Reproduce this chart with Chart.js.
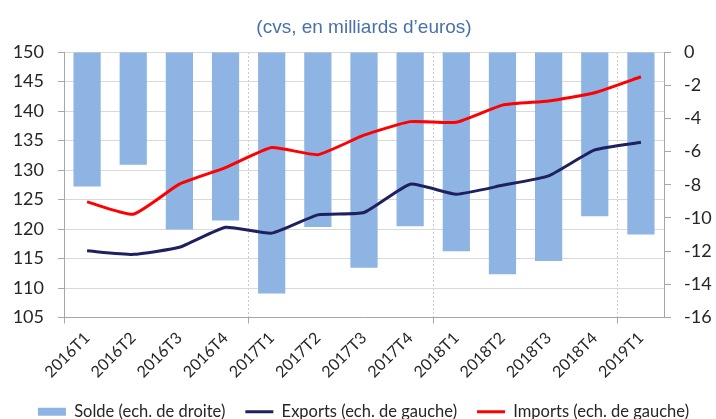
<!DOCTYPE html>
<html>
<head>
<meta charset="utf-8">
<script src="https://cdn.jsdelivr.net/npm/chart.js@4/dist/chart.umd.min.js"></script>
<style>
html,body{margin:0;padding:0;background:#fff;}
#wrap{width:716px;height:419px;position:relative;}
</style>
</head>
<body>
<div id="wrap"><canvas id="c" width="716" height="419"></canvas></div>
<script>
const categories = ['2016T1','2016T2','2016T3','2016T4','2017T1','2017T2','2017T3','2017T4','2018T1','2018T2','2018T3','2018T4','2019T1'];
const solde = [-8.1, -6.8, -10.7, -10.15, -14.55, -10.55, -13.0, -10.5, -12.0, -13.4, -12.6, -9.9, -11.0];
const exportsVals = [116.3, 115.7, 116.9, 120.3, 119.3, 122.4, 122.8, 127.6, 125.9, 127.4, 129.0, 133.4, 134.7];
const importsVals = [124.6, 122.5, 127.6, 130.4, 133.8, 132.6, 135.9, 138.2, 138.1, 141.0, 141.7, 143.1, 145.8];
const leftTicks = {min: 105, max: 150, step: 5};
const rightTicks = {min: -16, max: 0, step: 2};
const titleText = '(cvs, en milliards d\u2019euros)';
const labelsText = ['Solde (ech. de droite)', 'Exports (ech. de gauche)', 'Imports (ech. de gauche)'];

const axisGrey = '#a6a6a6';
const tickFont = {family: 'Lato', size: 18};

new Chart(document.getElementById('c'), {
  type: 'bar',
  data: {
    labels: categories,
    datasets: [
      {type: 'bar', label: labelsText[0], data: solde, yAxisID: 'y2', backgroundColor: '#8db4e2',
       borderWidth: 0, barPercentage: 1, categoryPercentage: 0.59, order: 2},
      {type: 'line', label: labelsText[1], data: exportsVals, yAxisID: 'y', borderColor: '#1f2060',
       backgroundColor: '#1f2060', borderWidth: 3, pointRadius: 0, tension: 0.15, order: 1},
      {type: 'line', label: labelsText[2], data: importsVals, yAxisID: 'y', borderColor: '#ff0000',
       backgroundColor: '#ff0000', borderWidth: 3, pointRadius: 0, tension: 0.15, order: 1}
    ]
  },
  options: {
    responsive: false,
    animation: false,
    layout: {padding: {left: 11, right: 0, top: 0, bottom: -11}},
    plugins: {
      tooltip: {enabled: false},
      title: {
        display: true, text: titleText, fullSize: false,
        font: {family: 'Liberation Sans', size: 19, weight: 'normal'},
        color: '#4a70a8', padding: {top: 16, bottom: 13.2}
      },
      legend: {
        position: 'bottom',
        labels: {
          font: {family: 'Lato', size: 16.5}, color: '#262626',
          usePointStyle: true, pointStyleWidth: 28, boxHeight: 8, padding: 20,
          sort: (a, b) => a.datasetIndex - b.datasetIndex,
          generateLabels(chart) {
            const items = Chart.defaults.plugins.legend.labels.generateLabels(chart);
            items.forEach(it => {
              const ds = chart.data.datasets[it.datasetIndex];
              if (ds.type === 'line') {
                it.pointStyle = 'line'; it.lineWidth = 3; it.strokeStyle = ds.borderColor; it.fillStyle = ds.borderColor;
              } else {
                it.pointStyle = 'rect'; it.lineWidth = 0; it.fillStyle = ds.backgroundColor; it.strokeStyle = ds.backgroundColor;
              }
            });
            return items;
          }
        }
      }
    },
    scales: {
      x: {
        type: 'category', offset: true,
        grid: {
          offset: true, lineWidth: 1, tickLength: 6,
          color: ctx => ([4, 8, 12].includes(ctx.index) ? '#c8c8c8' : 'rgba(0,0,0,0)'),
          tickColor: ctx => ([0, 4, 8, 12, 13].includes(ctx.index) ? axisGrey : 'rgba(0,0,0,0)')
        },
        border: {display: true, color: axisGrey, width: 1, dash: [2, 2]},
        ticks: {font: {family: 'Lato', size: 16}, color: '#262626', minRotation: 45, maxRotation: 45, padding: 5, autoSkip: false},
        afterFit: s => { s.height = 66; }
      },
      y: {
        position: 'left', min: leftTicks.min, max: leftTicks.max,
        grid: {color: '#d9d9d9', lineWidth: 1, tickLength: 6, tickColor: axisGrey},
        border: {display: true, color: axisGrey, width: 1},
        ticks: {stepSize: leftTicks.step, font: tickFont, color: '#262626', padding: 14},
        afterFit: s => { s.width = 53; }
      },
      y2: {
        position: 'right', min: rightTicks.min, max: rightTicks.max,
        grid: {drawOnChartArea: false, tickLength: 7, tickColor: axisGrey},
        border: {display: true, color: axisGrey, width: 1},
        ticks: {stepSize: rightTicks.step, font: tickFont, color: '#262626', padding: 13},
        afterFit: s => { s.width = 52; }
      }
    }
  }
});
</script>
</body>
</html>
